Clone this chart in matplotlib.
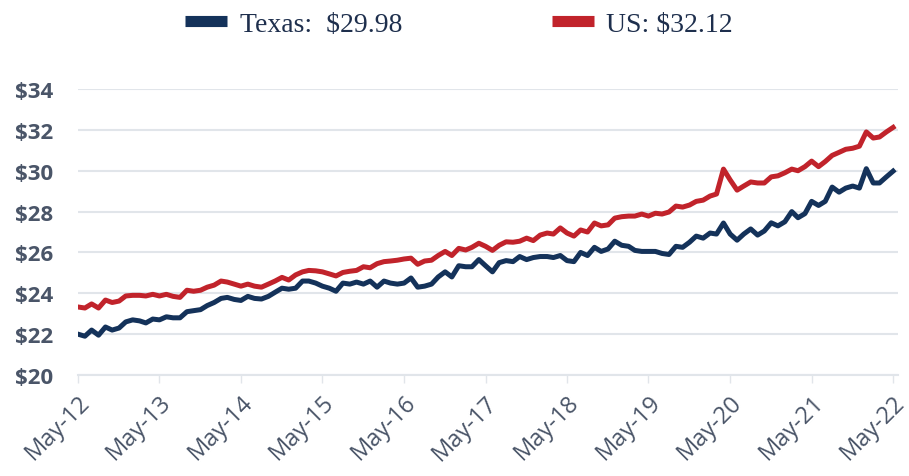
import pandas as pd
import matplotlib
matplotlib.use("Agg")
import matplotlib.pyplot as plt
from matplotlib.lines import Line2D

# Monatliche Stundenlöhne, Mai 2012 bis Mai 2022
texas = [22.0, 21.9, 22.2, 21.95, 22.35, 22.2, 22.3, 22.6, 22.7, 22.65, 22.55, 22.74,
         22.7, 22.85, 22.8, 22.8, 23.1, 23.15, 23.2, 23.4, 23.55, 23.75, 23.8, 23.7,
         23.65, 23.85, 23.75, 23.72, 23.85, 24.05, 24.25, 24.2, 24.25, 24.6, 24.6, 24.5,
         24.35, 24.25, 24.1, 24.5, 24.45, 24.55, 24.45, 24.6, 24.3, 24.6, 24.5, 24.45,
         24.5, 24.75, 24.3, 24.35, 24.45, 24.8, 25.05, 24.8, 25.35, 25.3, 25.3, 25.65,
         25.35, 25.05, 25.5, 25.6, 25.55, 25.8, 25.65, 25.75, 25.8, 25.8, 25.75, 25.85,
         25.6, 25.55, 26.0, 25.85, 26.25, 26.05, 26.17, 26.55, 26.35, 26.3, 26.1, 26.05,
         26.05, 26.05, 25.95, 25.9, 26.3, 26.25, 26.5, 26.8, 26.7, 26.95, 26.9, 27.44,
         26.9, 26.6, 26.9, 27.15, 26.85, 27.05, 27.45, 27.3, 27.5, 28.0, 27.7, 27.9,
         28.5, 28.3, 28.5, 29.2, 28.95, 29.15, 29.25, 29.15, 30.1, 29.4, 29.4, 29.7,
         29.98]
us = [23.33, 23.28, 23.48, 23.28, 23.67, 23.55, 23.62, 23.87, 23.9, 23.9, 23.87, 23.95,
      23.87, 23.95, 23.85, 23.8, 24.15, 24.1, 24.15, 24.3, 24.4, 24.6, 24.55, 24.45,
      24.35, 24.45, 24.35, 24.3, 24.45, 24.6, 24.78, 24.65, 24.9, 25.05, 25.12, 25.1,
      25.05, 24.95, 24.85, 25.02, 25.08, 25.12, 25.3, 25.25, 25.45, 25.55, 25.58, 25.62,
      25.68, 25.72, 25.42, 25.58, 25.62, 25.85, 26.05, 25.85, 26.2, 26.12, 26.25, 26.45,
      26.3, 26.1, 26.35, 26.52, 26.5, 26.55, 26.7, 26.58, 26.85, 26.95, 26.9, 27.2,
      26.95, 26.8, 27.1, 27.0, 27.44, 27.3, 27.35, 27.68, 27.75, 27.78, 27.78, 27.88,
      27.78, 27.92, 27.88, 27.98, 28.27, 28.22, 28.32, 28.5, 28.56, 28.76, 28.86, 30.08,
      29.55, 29.05, 29.25, 29.45, 29.4, 29.4, 29.7, 29.75, 29.9, 30.08, 30.0, 30.2,
      30.47, 30.2, 30.45, 30.75, 30.9, 31.05, 31.1, 31.2, 31.9, 31.6, 31.65, 31.9,
      32.12]
dates = pd.date_range("2012-05-01", periods=len(texas), freq="MS")
tick_dates = pd.date_range("2012-05-01", "2022-05-01", freq="12MS")
tick_labels = [d.strftime("%b-%y") for d in tick_dates]
y_ticks = [20, 22, 24, 26, 28, 30, 32, 34]
legend_labels = ["Texas:  $29.98", "US: $32.12"]

navy = "#14325a"
red = "#c1232b"
grid_col = "#e1e5ea"
label_col = "#4a5568"

fig = plt.figure(figsize=(9.09, 4.77), dpi=100)
ax = fig.add_axes([0.0858, 0.2117, 0.9021, 0.5996])

ax.plot(dates, texas, color=navy, lw=3.6, solid_joinstyle="round", zorder=3)
ax.plot(dates, us, color=red, lw=3.6, solid_joinstyle="round", zorder=3)

# Achsen
ax.set_ylim(20, 34)
ax.set_yticks(y_ticks)
ax.set_yticklabels(["$%d" % v for v in y_ticks], fontfamily="Open Sans",
                   fontweight="bold", fontsize=16, color=label_col)
ax.set_xlim(dates[0], dates[-1] + pd.Timedelta(days=22))
ax.set_xticks(tick_dates)
ax.set_xticklabels(tick_labels, rotation=45, ha="right", va="top",
                   rotation_mode="anchor", fontfamily="Open Sans",
                   fontsize=17, color=label_col)
ax.tick_params(axis="y", length=0, pad=18)
ax.tick_params(axis="x", length=6, width=1, color=grid_col, pad=5)
ax.grid(axis="y", color=grid_col, lw=1.5, zorder=0)
for s in ["top", "right", "left"]:
    ax.spines[s].set_visible(False)
ax.spines["bottom"].set_color(grid_col)
ax.spines["bottom"].set_linewidth(1.5)

# Legende oben
handles = [Line2D([], [], color=navy, lw=8, solid_capstyle="butt"),
           Line2D([], [], color=red, lw=8, solid_capstyle="butt")]
leg = fig.legend(handles, legend_labels, loc="center", bbox_to_anchor=(0.505, 0.948),
                 ncol=2, frameon=False, handlelength=1.5, handletextpad=0.45,
                 columnspacing=5.4, prop={"family": "Liberation Serif", "size": 20})
for t in leg.get_texts():
    t.set_color("#1e2f4d")

fig.savefig("out.png", dpi=100)
